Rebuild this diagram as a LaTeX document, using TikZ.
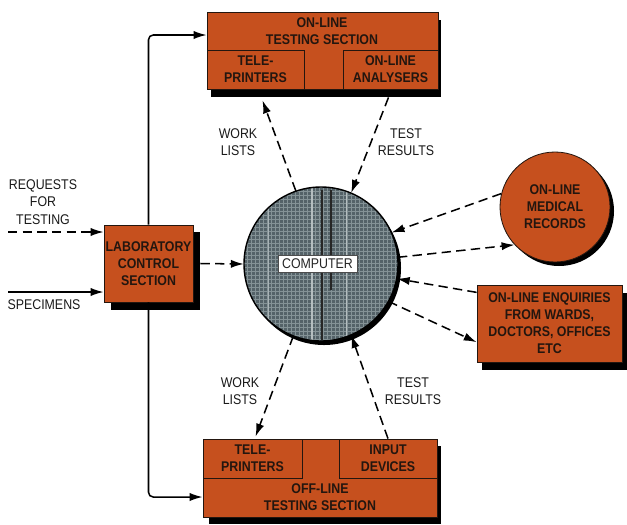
\documentclass[tikz,border=0pt]{standalone}
\usepackage{fontspec}
\setmainfont{Liberation Sans}[FakeStretch=0.88]
\usetikzlibrary{arrows.meta,calc}
\definecolor{orng}{RGB}{198,80,30}
\definecolor{ink}{RGB}{35,22,15}
\definecolor{compfill}{RGB}{84,98,104}
\definecolor{gridc}{RGB}{132,146,150}
\begin{document}
\begin{tikzpicture}[x=0.03cm,y=-0.03cm,
  pbox/.style={draw=ink, line width=0.7pt, fill=orng, inner sep=0pt},
  sbox/.style={draw=ink, line width=0.7pt, inner sep=0pt, font=\fontsize{12}{14.5}\selectfont\bfseries, text=ink, align=center},
  btext/.style={font=\fontsize{12}{14.5}\selectfont\bfseries, text=ink, align=center, inner sep=0pt},
  ltext/.style={font=\fontsize{12}{15}\selectfont, text=black!90, align=center, inner sep=0pt},
  shad/.style={fill=black},
  flow/.style={line width=1.3pt, -{Latex[length=11pt,width=7pt]}},
  dflow/.style={flow, dash pattern=on 8pt off 4.5pt},
]
\useasboundingbox (0,0) rectangle (627,524);

% shadows
\fill[shad] (211,20) rectangle (441,97);
\fill[shad] (209,446) rectangle (441,524);
\fill[shad] (111,232) rectangle (200,310);
\fill[shad] (482,293) rectangle (627,370);
\fill[shad] (559,211) circle[radius=1.65cm];
\fill[shad] (324,268) circle[radius=2.31cm];

% top box
\node[pbox, minimum width=6.93cm, minimum height=2.31cm] (top) at (322.5,50.5) {};
\node[sbox, minimum width=2.91cm, minimum height=1.17cm] (ttele) at (255.5,69.5) {TELE-\\PRINTERS};
\node[sbox, minimum width=2.85cm, minimum height=1.17cm] (tana) at (390.5,69.5) {ON-LINE\\ANALYSERS};
\node[btext] (toptitle) at (322,31) {ON-LINE\\TESTING SECTION};

% bottom box
\node[pbox, minimum width=7.02cm, minimum height=2.34cm] (bot) at (320,478) {};
\node[sbox, minimum width=2.97cm, minimum height=1.17cm] (btele) at (252.5,458.5) {TELE-\\PRINTERS};
\node[sbox, minimum width=2.94cm, minimum height=1.17cm] (binput) at (388,458.5) {INPUT\\DEVICES};
\node[btext] (bottitle) at (320,497) {OFF-LINE\\TESTING SECTION};

% laboratory
\node[pbox, btext, draw=ink, fill=orng, minimum width=2.67cm, minimum height=2.31cm] (lab) at (148.5,263.5) {LABORATORY\\CONTROL\\SECTION};

% enquiries
\node[pbox, btext, draw=ink, fill=orng, minimum width=4.35cm, minimum height=2.31cm] (enq) at (549.5,323.5) {ON-LINE ENQUIRIES\\FROM WARDS,\\DOCTORS, OFFICES\\ETC};

% medical records
\node[circle, draw=ink, line width=0.7pt, fill=orng, minimum size=3.3cm, inner sep=0pt, btext] (med) at (555,207) {ON-LINE\\MEDICAL\\RECORDS};

% computer
\node[circle, fill=compfill, minimum size=4.62cm, inner sep=0pt] (comp) at (321,264) {};
\begin{scope}
  \clip (comp.center) circle[radius=2.31cm];
  \foreach \i in {0,4,...,156} {
    \draw[gridc, line width=0.25pt] (243+\i,186) -- (243+\i,342);
    \draw[gridc, line width=0.25pt] (243,187+\i) -- (399,187+\i);
  }
  \draw[gridc!60!white, line width=1pt] (312,188) -- (312,342);
  \draw[gridc!60!white, line width=0.8pt] (346,188) -- (346,342);
  \draw[gridc!70!white, line width=0.6pt] (268,188) -- (268,342);
  \draw[black!85, line width=1.3pt] (322,190) -- (322,340);
  \draw[black!85, line width=1.3pt] (331,190) -- (331,290);
\end{scope}
\draw[black, line width=1.2pt] (comp.center) circle[radius=2.31cm];
\node[fill=white, draw=black!70, line width=0.5pt, minimum width=2.37cm, minimum height=0.5cm, inner sep=0pt, font=\fontsize{12}{14}\selectfont, text=black!85] (complabel) at (317.5,263.5) {COMPUTER};

% left labels
\node[ltext] (req) at (43,202) {REQUESTS\\FOR\\TESTING};
\node[ltext] (spec) at (44,305) {SPECIMENS};
\coordinate (reqstart) at (8,232);
\coordinate (specstart) at (8,292);
\draw[dflow] (reqstart) -- (lab.west |- reqstart);
\draw[flow] (specstart) -- (lab.west |- specstart);

% vertical distribution line
\draw[flow, rounded corners=4pt] (lab.north) |- ($(top.west)+(0,-15.5)$);
\draw[flow, rounded corners=4pt] (lab.south) |- ($(bot.west)+(0,19)$);

% lab to computer
\draw[dflow] ($(lab.east)+(7,0)$) -- (comp.west);

% top arrows
\draw[dflow] (comp.109) -- ($(ttele.south)+(7,11)$);
\draw[dflow] ($(tana.south)+(-2,8)$) -- (comp.67);
\node[ltext] (wl1) at (238,142) {WORK\\LISTS};
\node[ltext] (tr1) at (406,142) {TEST\\RESULTS};

% bottom arrows
\draw[dflow] (comp.249) -- ($(btele.north)+(3,-2)$);
\draw[dflow] (binput.north) -- (comp.293);
\node[ltext] (wl2) at (240,391) {WORK\\LISTS};
\node[ltext] (tr2) at (413,391) {TEST\\RESULTS};

% right arrows
\draw[dflow] (med.166) -- (comp.24);
\draw[dflow] (comp.5) -- (med.223);
\draw[dflow] ($(enq.north west)!0.1!(enq.south west)$) -- (comp.-11);
\draw[dflow] (comp.-29.5) -- ($(enq.north west)!0.74!(enq.south west)$);
\end{tikzpicture}
\end{document}
